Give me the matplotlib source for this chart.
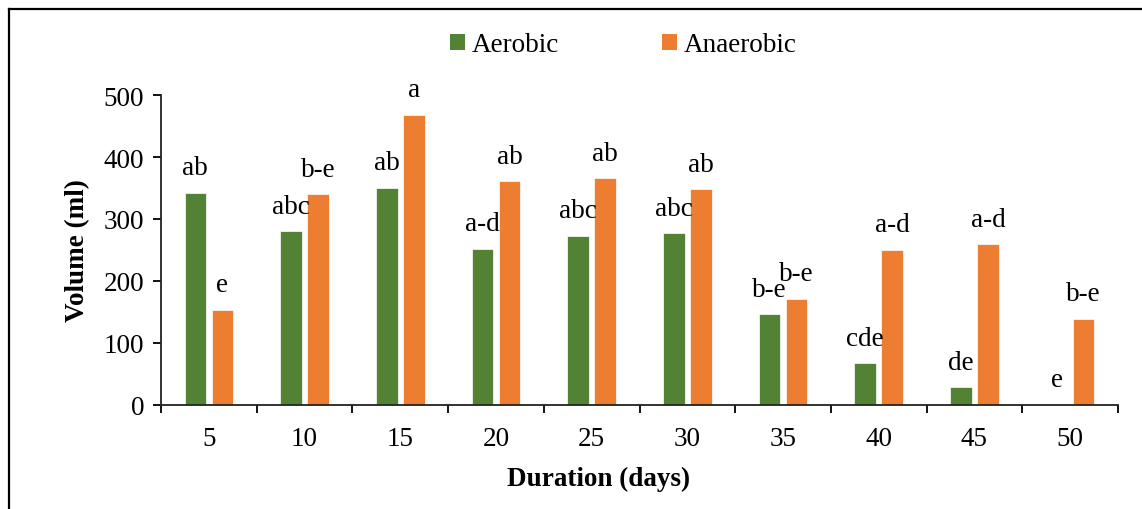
import numpy as np
import matplotlib
matplotlib.use("Agg")
from matplotlib import pyplot as plt
from matplotlib.patches import Patch
from matplotlib.lines import Line2D

# data
days = ["5", "10", "15", "20", "25", "30", "35", "40", "45", "50"]
aerobic = [342, 280, 350, 252, 273, 277, 146, 67, 29, 0]
anaerobic = [154, 340, 468, 361, 366, 348, 171, 250, 259, 139]
aerobic_letters = ["ab", "abc", "ab", "a-d", "abc", "abc", "b-e", "cde", "de", "e"]
anaerobic_letters = ["e", "b-e", "a", "ab", "ab", "ab", "b-e", "a-d", "a-d", "b-e"]

green = "#548235"
orange = "#ED7D31"
fs = 19.5

plt.rcParams["font.family"] = ["Liberation Serif", "DejaVu Serif"]

W, H = 1142, 510
fig = plt.figure(figsize=(W / 100, H / 100), dpi=100)
ax = fig.add_axes([161 / W, 1 - 406 / H, (1118 - 161) / W, (406 - 96) / H])

x = np.arange(len(days))
bw = 0.225
off = 0.141
ax.bar(x - off, aerobic, bw, color=green, edgecolor="white", linewidth=0.5)
ax.bar(x + off, anaerobic, bw, color=orange, edgecolor="white", linewidth=0.5)

for i in range(len(days)):
    ax.annotate(aerobic_letters[i], (x[i] - off, aerobic[i]), xytext=(0, 18),
                textcoords="offset points", ha="center", va="center",
                fontsize=fs, annotation_clip=False)
    ax.annotate(anaerobic_letters[i], (x[i] + off, anaerobic[i]), xytext=(0, 18),
                textcoords="offset points", ha="center", va="center",
                fontsize=fs, annotation_clip=False)

ax.set_xlim(-0.5, len(days) - 0.5)
ax.set_ylim(0, 500)
ax.set_yticks([0, 100, 200, 300, 400, 500])
ax.set_xticks(x)
ax.set_xticklabels(days)
ax.set_xticks(np.arange(len(days) + 1) - 0.5, minor=True)
ax.tick_params(axis="x", which="major", length=0, pad=15, labelsize=fs)
ax.tick_params(axis="x", which="minor", length=6, width=1.3, direction="out")
ax.tick_params(axis="y", length=6, width=1.3, direction="out", pad=6, labelsize=fs)

for s in ["top", "right"]:
    ax.spines[s].set_visible(False)
for s in ["left", "bottom"]:
    ax.spines[s].set_linewidth(1.3)
    ax.spines[s].set_color("#222222")

ax.set_ylabel("Volume (ml)", fontsize=fs, fontweight="bold", labelpad=10)
fig.text(599 / W, 1 - 479 / H, "Duration (days)", fontsize=fs, fontweight="bold",
         ha="center", va="center")

handles = [Patch(facecolor=green, label="Aerobic"),
           Patch(facecolor=orange, label="Anaerobic")]
fig.legend(handles=handles, loc="center", bbox_to_anchor=(623 / W, 1 - 46 / H),
           ncol=2, frameon=False, fontsize=fs, handlelength=0.55, handleheight=0.55,
           handletextpad=0.25, columnspacing=3.8)

# outer frame (top and left edges visible in the reference)
fig.add_artist(Line2D([9 / W, 1.0], [1 - 10 / H, 1 - 10 / H], transform=fig.transFigure,
                      color="black", linewidth=1.6))
fig.add_artist(Line2D([9 / W, 9 / W], [0.0, 1 - 10 / H], transform=fig.transFigure,
                      color="black", linewidth=1.6))

fig.savefig("out.png", dpi=100)
